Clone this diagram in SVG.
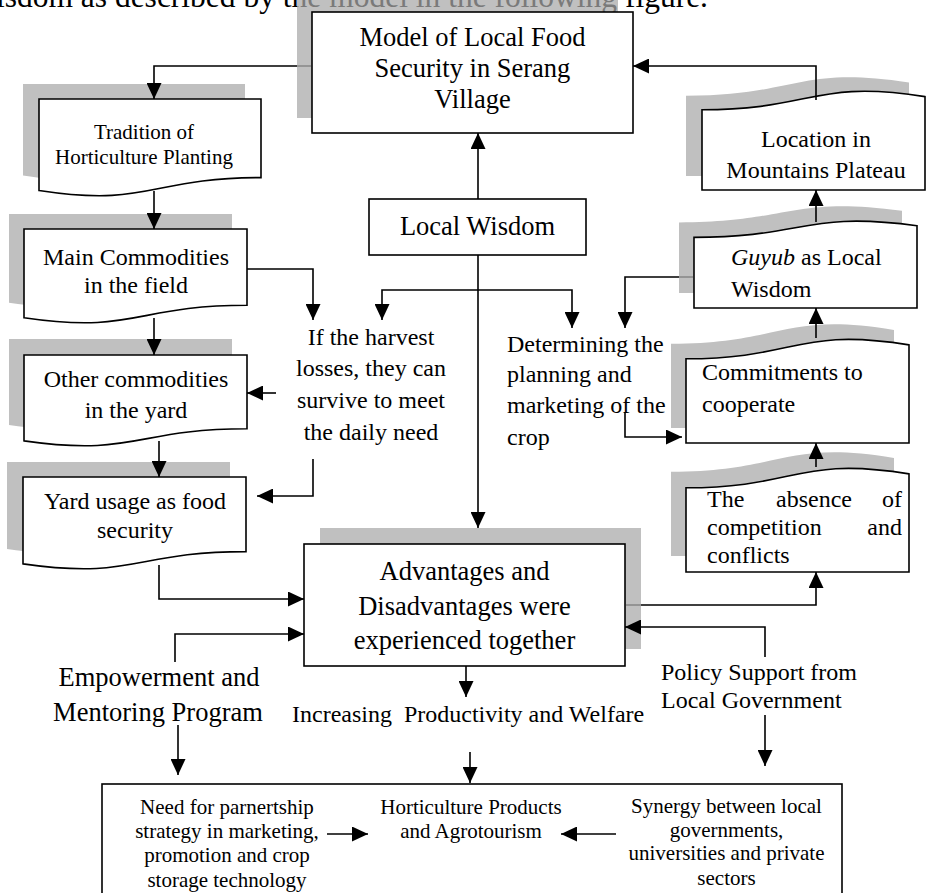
<svg xmlns="http://www.w3.org/2000/svg" width="926" height="893" viewBox="0 0 926 893">
<style>
  text { font-family: "Liberation Serif", "Times New Roman", serif; fill: #000; }
  .big { font-size: 26.5px; }
  .mid { font-size: 24px; }
  .sm { font-size: 21px; }
  .c { text-anchor: middle; }
  .box { fill: #fff; stroke: #000; stroke-width: 1.6; }
  .shadow { fill: #c0c0c0; stroke: none; }
  .conn path { fill: none; stroke: #000; stroke-width: 1.6; }
  .conn path.arr { marker-end: url(#ah); }
  .conn path.dim { stroke: #8a8a8a; }
</style>
<defs>
  <marker id="ah" markerUnits="userSpaceOnUse" markerWidth="16" markerHeight="15" viewBox="0 0 16 15" refX="16" refY="7.5" orient="auto">
    <path d="M0,0 L16,7.5 L0,15 Z" fill="#000"/>
  </marker>
  <clipPath id="mclip"><rect x="297" y="-5" width="321" height="123"/></clipPath>
</defs>

<rect width="926" height="893" fill="#fff"/>

<!-- clipped body text line at the top -->
<text x="708" y="7" style="font-size:31.5px;text-anchor:end">wisdom as described by the model in the following figure.</text>

<!-- Model -->
<g id="model">
  <rect class="shadow" x="297" y="-5" width="321" height="123"/>
  <text x="708" y="7" clip-path="url(#mclip)" style="font-size:31.5px;text-anchor:end;fill:#7a7a7a">wisdom as described by the model in the following figure.</text>
  <rect class="box" x="312" y="12" width="321" height="121"/>
  <text class="big c" x="472.5" y="46">Model of Local Food</text>
  <text class="big c" x="472.5" y="77">Security in Serang</text>
  <text class="big c" x="472.5" y="108">Village</text>
</g>

<!-- Local Wisdom -->
<g id="local-wisdom">
  <rect class="box" x="369" y="199" width="217" height="56"/>
  <text class="big c" x="477.5" y="235">Local Wisdom</text>
</g>

<!-- Tradition -->
<g id="tradition">
  <path class="shadow" transform="translate(-16,-15)" d="M39,99 H261 V177.6 C150,177.6 150,207.5 39,190.5 Z"/>
  <path class="box" d="M39,99 H261 V177.6 C150,177.6 150,207.5 39,190.5 Z"/>
  <text class="sm c" x="144" y="139">Tradition of</text>
  <text class="sm c" x="144" y="164">Horticulture Planting</text>
</g>

<!-- Main Commodities -->
<g id="main-commodities">
  <path class="shadow" transform="translate(-15,-15)" d="M24,229 H247 V305.2 C135.5,305.2 135.5,334.2 24,317.7 Z"/>
  <path class="box" d="M24,229 H247 V305.2 C135.5,305.2 135.5,334.2 24,317.7 Z"/>
  <text class="mid c" x="136" y="265">Main Commodities</text>
  <text class="mid c" x="136" y="293">in the field</text>
</g>

<!-- Other commodities -->
<g id="other-commodities">
  <path class="shadow" transform="translate(-15,-16)" d="M24,355 H247 V428.8 C135.5,428.8 135.5,456.8 24,440.9 Z"/>
  <path class="box" d="M24,355 H247 V428.8 C135.5,428.8 135.5,456.8 24,440.9 Z"/>
  <text class="mid c" x="136" y="387">Other commodities</text>
  <text class="mid c" x="136" y="418">in the yard</text>
</g>

<!-- Yard usage -->
<g id="yard-usage">
  <path class="shadow" transform="translate(-16,-15)" d="M23,477 H246 V551.6 C134.5,551.6 134.5,580 23,563.9 Z"/>
  <path class="box" d="M23,477 H246 V551.6 C134.5,551.6 134.5,580 23,563.9 Z"/>
  <text class="mid c" x="135" y="509">Yard usage as food</text>
  <text class="mid c" x="135" y="538">security</text>
</g>

<!-- If the harvest -->
<g id="if-harvest">
  <text class="mid c" x="371" y="345">If the harvest</text>
  <text class="mid c" x="371" y="376">losses, they can</text>
  <text class="mid c" x="371" y="408">survive to meet</text>
  <text class="mid c" x="371" y="440">the daily need</text>
</g>

<!-- Determining -->
<g id="determining">
  <text class="mid" x="507" y="352">Determining the</text>
  <text class="mid" x="507" y="382">planning and</text>
  <text class="mid" x="507" y="413">marketing of the</text>
  <text class="mid" x="507" y="445">crop</text>
</g>

<!-- Location -->
<g id="location">
  <path class="shadow" transform="translate(-16,-14)" d="M925,190 H702 V109.8 C813.5,109.8 813.5,79.3 925,96.6 Z"/>
  <path class="box" d="M925,190 H702 V109.8 C813.5,109.8 813.5,79.3 925,96.6 Z"/>
  <text class="mid c" x="816" y="147">Location in</text>
  <text class="mid c" x="816" y="178">Mountains Plateau</text>
</g>

<!-- Guyub -->
<g id="guyub">
  <path class="shadow" transform="translate(-15,-15)" d="M917,308 H694 V237.4 C805.5,237.4 805.5,210.6 917,225.8 Z"/>
  <path class="box" d="M917,308 H694 V237.4 C805.5,237.4 805.5,210.6 917,225.8 Z"/>
  <text class="mid" x="731" y="265"><tspan font-style="italic">Guyub</tspan> as Local</text>
  <text class="mid" x="731" y="297">Wisdom</text>
</g>

<!-- Commitments -->
<g id="commitments">
  <path class="shadow" transform="translate(-15,-15)" d="M909,443 H686 V358.8 C797.5,358.8 797.5,326.8 909,344.9 Z"/>
  <path class="box" d="M909,443 H686 V358.8 C797.5,358.8 797.5,326.8 909,344.9 Z"/>
  <text class="mid" x="702" y="380">Commitments to</text>
  <text class="mid" x="702" y="412">cooperate</text>
</g>

<!-- Absence -->
<g id="absence">
  <path class="shadow" transform="translate(-15,-16)" d="M909,572 H686 V487.8 C797.5,487.8 797.5,455.8 909,473.9 Z"/>
  <path class="box" d="M909,572 H686 V487.8 C797.5,487.8 797.5,455.8 909,473.9 Z"/>
  <text class="mid" x="707" y="507">The</text>
  <text class="mid" x="776" y="507">absence</text>
  <text class="mid" x="902" y="507" text-anchor="end">of</text>
  <text class="mid" x="707" y="535">competition</text>
  <text class="mid" x="902" y="535" text-anchor="end">and</text>
  <text class="mid" x="707" y="563">conflicts</text>
</g>

<!-- Advantages -->
<g id="advantages">
  <rect class="shadow" x="320" y="528" width="321" height="121"/>
  <rect class="box" x="304" y="544" width="321" height="122"/>
  <text class="big c" x="464.5" y="580">Advantages and</text>
  <text class="big c" x="464.5" y="615">Disadvantages were</text>
  <text class="big c" x="464.5" y="649">experienced together</text>
</g>

<!-- Empowerment -->
<g id="empowerment">
  <text class="big c" x="159" y="686">Empowerment and</text>
  <text class="big c" x="158" y="721">Mentoring Program</text>
</g>

<!-- Increasing -->
<g id="increasing">
  <text class="mid" x="292" y="722" xml:space="preserve">Increasing  Productivity and Welfare</text>
</g>

<!-- Policy -->
<g id="policy">
  <text class="mid" x="661" y="680">Policy Support from</text>
  <text class="mid" x="661" y="708">Local Government</text>
</g>

<!-- Bottom box -->
<g id="outcomes">
  <rect class="box" x="102" y="784" width="740" height="130"/>
</g>
<g id="need">
  <text class="sm c" x="227" y="814">Need for parnertship</text>
  <text class="sm c" x="227" y="838">strategy in marketing,</text>
  <text class="sm c" x="227" y="862">promotion and crop</text>
  <text class="sm c" x="227" y="887">storage technology</text>
</g>
<g id="horticulture">
  <text class="sm c" x="471" y="814">Horticulture Products</text>
  <text class="sm c" x="471" y="838">and Agrotourism</text>
</g>
<g id="synergy">
  <text class="sm c" x="726.5" y="813">Synergy between local</text>
  <text class="sm c" x="726.5" y="837">governments,</text>
  <text class="sm c" x="726.5" y="860">universities and private</text>
  <text class="sm c" x="726.5" y="885">sectors</text>
</g>

<!-- connectors -->
<g id="connectors" class="conn">
  <path class="arr" d="M297,66 H154 V99"/>
  <path class="dim" d="M297,66 H311"/>
  <path class="arr" d="M154,191 V229"/>
  <path class="arr" d="M154,318 V355"/>
  <path class="arr" d="M159,441 V477"/>
  <path class="arr" d="M247,269 H313 V320"/>
  <path class="arr" d="M276,393 H247"/>
  <path class="arr" d="M313,459 V496 H257"/>
  <path class="arr" d="M478,199 V133"/>
  <path class="arr" d="M478,255 V528"/>
  <path class="arr" d="M478,290 H382 V320"/>
  <path class="arr" d="M478,290 H572 V328"/>
  <path class="arr" d="M679,277 H625 V328"/>
  <path class="dim" d="M679,277 H693"/>
  <path class="arr" d="M625,412 V437 H682"/>
  <path class="arr" d="M816,100 V66 H633"/>
  <path class="arr" d="M816,222 V190"/>
  <path class="arr" d="M816,338 V308"/>
  <path class="arr" d="M816,467 V443"/>
  <path class="arr" d="M641,605 H816 V572"/>
  <path class="dim" d="M626,605 H641"/>
  <path class="arr" d="M765,657 V627 H625"/>
  <path class="arr" d="M159,565 V599 H304"/>
  <path class="arr" d="M175,662 V634 H304"/>
  <path class="arr" d="M178,725 V775"/>
  <path class="arr" d="M466,666 V697"/>
  <path class="arr" d="M470,752 V783"/>
  <path class="arr" d="M765,715 V766"/>
  <path class="arr" d="M327,834 H368"/>
  <path class="arr" d="M616,834 H561"/>
</g>
</svg>
